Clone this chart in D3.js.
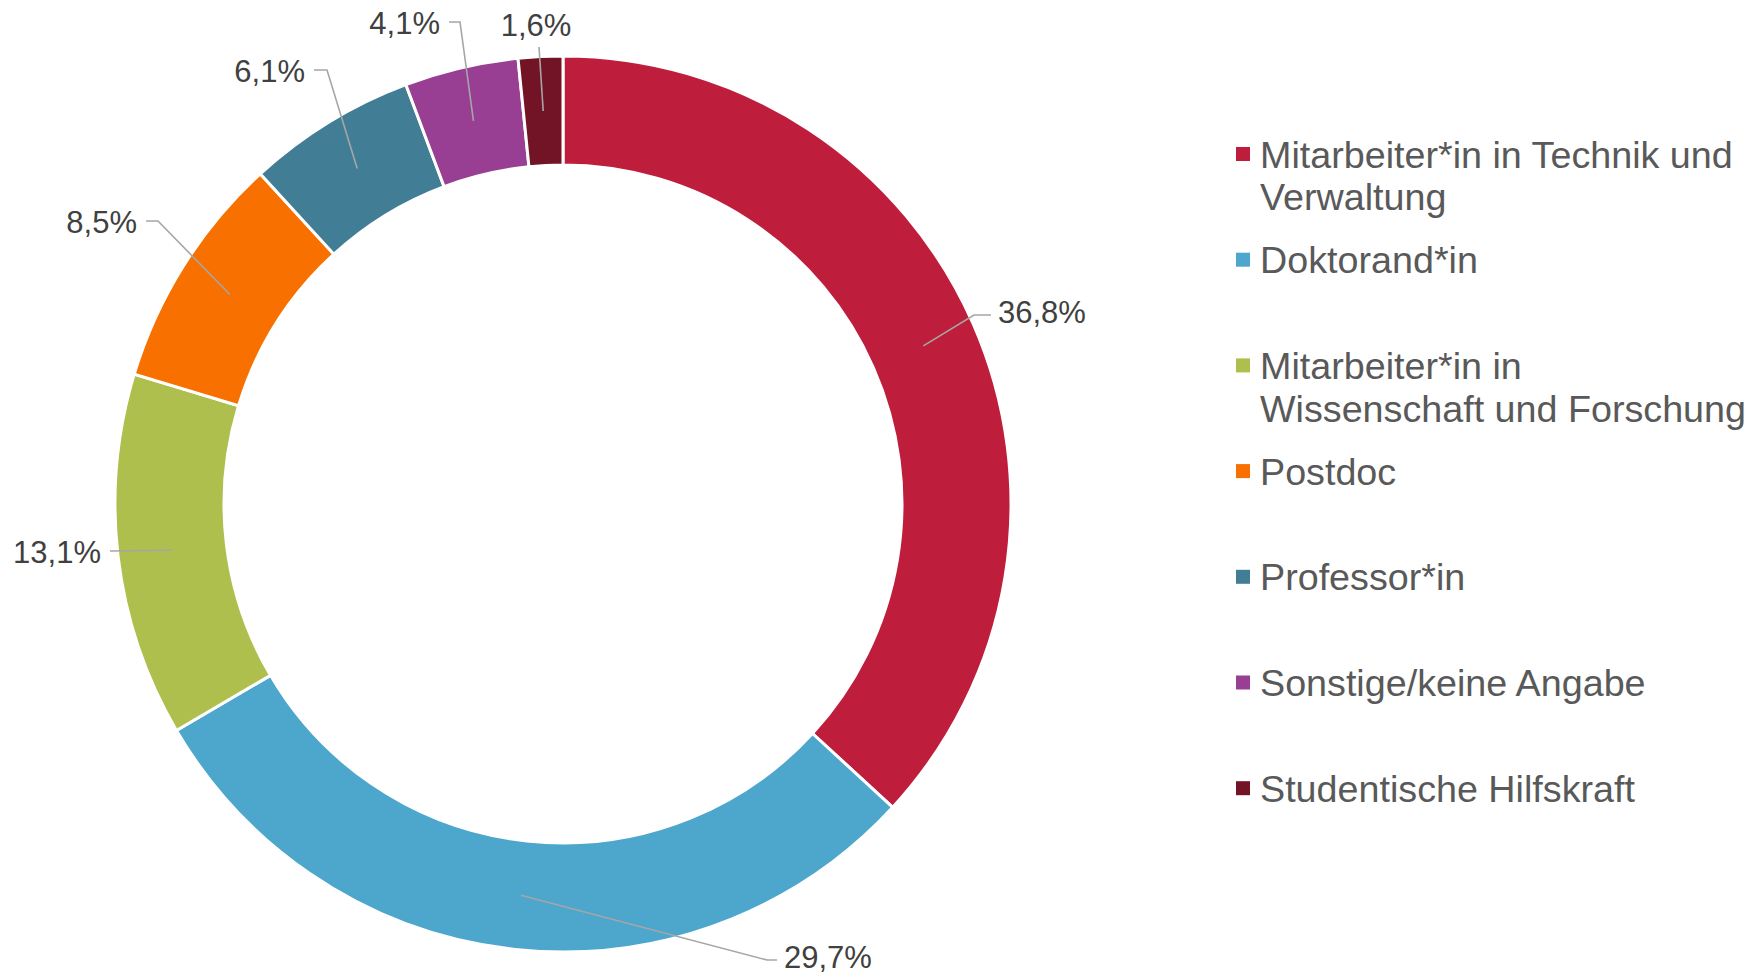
<!DOCTYPE html>
<html>
<head>
<meta charset="utf-8">
<script src="https://cdn.jsdelivr.net/npm/d3@7"></script>
<style>
  html, body { margin: 0; padding: 0; background: #ffffff; }
  svg { display: block; }
  text { font-family: Arial, "Liberation Sans", sans-serif; }
</style>
</head>
<body>
<svg id="chart" width="1760" height="977"></svg>
<script>
// ---- data ----
const categories = [
  "Mitarbeiter*in in Technik und Verwaltung",
  "Doktorand*in",
  "Mitarbeiter*in in Wissenschaft und Forschung",
  "Postdoc",
  "Professor*in",
  "Sonstige/keine Angabe",
  "Studentische Hilfskraft"
];
const values = [36.8, 29.7, 13.1, 8.5, 6.1, 4.1, 1.6];
const colors = ["#BE1E3C", "#4DA6CC", "#AFBF4E", "#F87000", "#417E96", "#983F93", "#721425"];
const legendLines = [
  ["Mitarbeiter*in in Technik und", "Verwaltung"],
  ["Doktorand*in"],
  ["Mitarbeiter*in in", "Wissenschaft und Forschung"],
  ["Postdoc"],
  ["Professor*in"],
  ["Sonstige/keine Angabe"],
  ["Studentische Hilfskraft"]
];

// ---- layout (label elbow positions relative to the centre, text side) ----
const labelLayout = [
  { ex: 411, ey: -189, len: 17, side: "right" },
  { ex: 204, ey: 456, len: 10, side: "right" },
  { ex: -453, ey: 47, len: 0, side: "left" },
  { ex: -405, ey: -283, len: 12, side: "left" },
  { ex: -236, ey: -434, len: 13, side: "left" },
  { ex: -103, ey: -482, len: 11, side: "left" },
  { ex: -24, ey: -457, len: 0, side: "top" }
];

const W = 1760, H = 977;
const cx = 563, cy = 504, outerR = 448, innerR = 339;

const svg = d3.select("#chart");
const g = svg.append("g").attr("transform", `translate(${cx},${cy})`);

const locale = d3.formatLocale({ decimal: ",", thousands: ".", grouping: [3], currency: ["", "€"] });
const fmt = v => locale.format(".1f")(v) + "%";

const pie = d3.pie().sort(null).value(d => d.value);
const data = categories.map((c, i) => ({ name: c, value: values[i], color: colors[i] }));
const arcs = pie(data);
const arc = d3.arc().innerRadius(innerR).outerRadius(outerR);

g.selectAll("path.slice")
  .data(arcs)
  .join("path")
  .attr("class", "slice")
  .attr("d", arc)
  .attr("fill", d => d.data.color)
  .attr("stroke", "#ffffff")
  .attr("stroke-width", 3)
  .attr("stroke-linejoin", "miter");

// leader lines + labels
arcs.forEach((a, i) => {
  const [sx, sy] = arc.centroid(a);
  const L = labelLayout[i];
  const pts = [[sx, sy], [L.ex, L.ey]];
  let tx, ty, anchor;
  if (L.side === "right") {
    pts.push([L.ex + L.len, L.ey]);
    tx = L.ex + L.len + 7; ty = L.ey - 3; anchor = "start";
  } else if (L.side === "left") {
    pts.push([L.ex - L.len, L.ey]);
    tx = L.ex - L.len - 9; ty = L.ey + 1; anchor = "end";
  } else {
    tx = L.ex - 3; ty = L.ey - 22; anchor = "middle";
  }
  g.append("path")
    .attr("d", d3.line()(pts))
    .attr("fill", "none")
    .attr("stroke", "#A6A6A6")
    .attr("stroke-width", 1.6);
  g.append("text")
    .attr("x", tx)
    .attr("y", ty)
    .attr("dy", "0.36em")
    .attr("text-anchor", anchor)
    .attr("font-size", 31)
    .attr("fill", "#404040")
    .text(fmt(values[i]));
});

// legend
const legend = svg.append("g").attr("transform", "translate(1236,154)");
const step = 105.7, lineH = 42.6, fs = 37.7;
legendLines.forEach((lines, i) => {
  const item = legend.append("g").attr("transform", `translate(0,${i * step})`);
  item.append("rect")
    .attr("x", 0).attr("y", -7)
    .attr("width", 14).attr("height", 14)
    .attr("fill", colors[i]);
  lines.forEach((t, j) => {
    item.append("text")
      .attr("x", 24)
      .attr("y", j * lineH)
      .attr("dy", "0.36em")
      .attr("font-size", fs)
      .attr("fill", "#595959")
      .text(t);
  });
});
</script>
</body>
</html>
